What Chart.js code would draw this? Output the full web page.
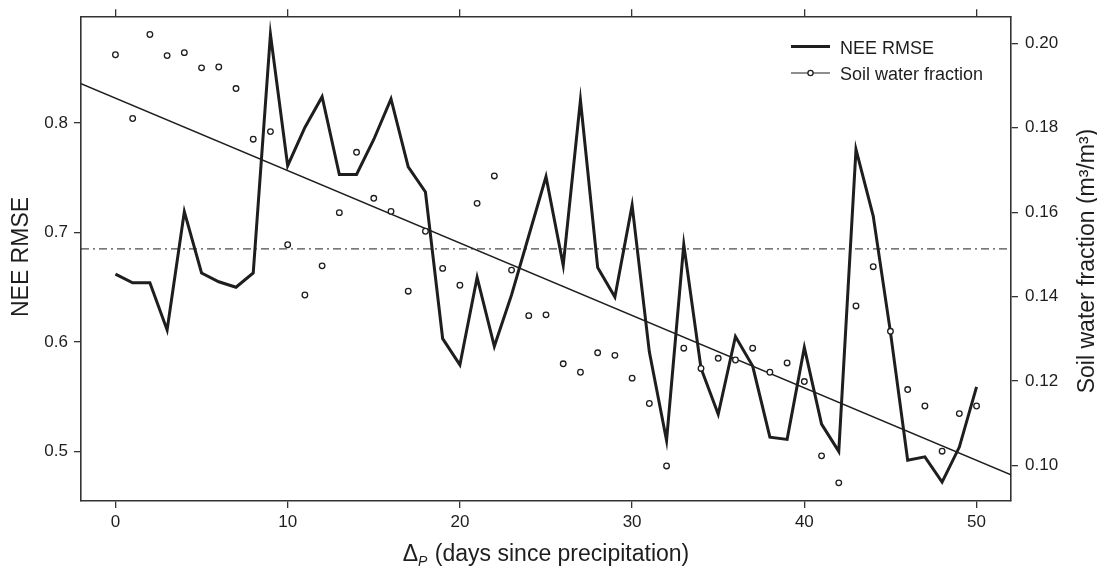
<!DOCTYPE html>
<html>
<head>
<meta charset="utf-8">
<script src="https://cdn.jsdelivr.net/npm/chart.js@4.4.1/dist/chart.umd.min.js"></script>
<style>
  html, body { margin: 0; padding: 0; background: #fff; }
  #wrap { width: 1097px; height: 566px; }
</style>
</head>
<body>
<div id="wrap"><canvas id="chart" width="1097" height="566"></canvas></div>
<script>
'use strict';

// days since precipitation
const days = [0,1,2,3,4,5,6,7,8,9,10,11,12,13,14,15,16,17,18,19,20,21,22,23,24,25,
              26,27,28,29,30,31,32,33,34,35,36,37,38,39,40,41,42,43,44,45,46,47,48,49,50];

// NEE RMSE (left axis)
const neeRmse = [0.662,0.654,0.654,0.611,0.719,0.663,0.655,0.650,0.663,0.881,0.761,0.796,0.824,0.753,0.753,0.785,0.822,0.760,0.737,0.603,
                 0.579,0.659,0.596,0.643,0.697,0.751,0.670,0.821,0.668,0.641,0.725,0.591,0.510,0.689,0.576,0.534,0.605,0.578,0.513,0.511,
                 0.595,0.525,0.500,0.776,0.715,0.609,0.492,0.495,0.472,0.504,0.559];

// soil water fraction (right axis, m3/m3)
const soilWater = [0.1973,0.1822,0.2021,0.1971,0.1978,0.1942,0.1944,0.1893,0.1773,0.1791,0.1523,0.1404,0.1473,0.1599,0.1742,0.1633,0.1602,0.1413,0.1555,0.1467,
                   0.1427,0.1621,0.1686,0.1463,0.1355,0.1357,0.1241,0.1221,0.1267,0.1261,0.1207,0.1147,0.0999,0.1278,0.1230,0.1254,0.1250,0.1278,0.1221,0.1243,
                   0.1199,0.1023,0.0959,0.1378,0.1471,0.1318,0.1180,0.1141,0.1034,0.1123,0.1141];

// straight trend line and dash-dot reference level (left axis)
const trendX = [-2, 52];
const trendY = [0.836, 0.4786];
const refX = [-2, 52];
const refY = [0.685, 0.685];

// ticks
const dayTicks = [0, 10, 20, 30, 40, 50];
const rmseTicks = [0.5, 0.6, 0.7, 0.8];
const soilTicks = [0.10, 0.12, 0.14, 0.16, 0.18, 0.20];

const FONT = '"Liberation Sans", Arial, Helvetica, sans-serif';
const INK = '#1e1e1e';
const AXIS = '#333';

const pts = (xs, ys) => xs.map((x, i) => ({ x, y: ys[i] }));
const setTicks = list => s => { s.ticks = list.map(v => ({ value: v })); };

const edgeGrid = len => ({ display: true, drawOnChartArea: false, drawTicks: true, tickLength: len, color: AXIS, lineWidth: 1.3 });
const edgeBorder = { display: true, color: AXIS, width: 1.6 };
const tickFont = { family: FONT, size: 17 };

const textPlugin = {
  id: 'textPlugin',
  afterDraw(chart) {
    const ctx = chart.ctx, a = chart.chartArea;
    ctx.save();
    ctx.fillStyle = INK;
    ctx.strokeStyle = INK;

    // left title
    ctx.font = `23px ${FONT}`;
    ctx.textAlign = 'center';
    ctx.textBaseline = 'alphabetic';
    ctx.save();
    ctx.translate(28, 257);
    ctx.rotate(-Math.PI / 2);
    ctx.fillText('NEE RMSE', 0, 0);
    ctx.restore();

    // right title
    ctx.save();
    ctx.translate(1094, 261);
    ctx.rotate(-Math.PI / 2);
    ctx.fillText('Soil water fraction (m\u00b3/m\u00b3)', 0, 0);
    ctx.restore();

    // x title with subscript
    const main = `23px ${FONT}`, sub = `italic 14px ${FONT}`;
    const rest = ' (days since precipitation)';
    ctx.font = main; const wD = ctx.measureText('\u0394').width, wR = ctx.measureText(rest).width;
    ctx.font = sub; const wP = ctx.measureText('P').width + 1;
    let x = (a.left + a.right) / 2 - (wD + wP + wR) / 2;
    ctx.textAlign = 'left';
    ctx.font = main; ctx.fillText('\u0394', x, 561); x += wD;
    ctx.font = sub; ctx.fillText('P', x, 566); x += wP;
    ctx.font = main; ctx.fillText(rest, x, 561);

    // legend
    ctx.font = `18px ${FONT}`;
    ctx.lineWidth = 3;
    ctx.beginPath(); ctx.moveTo(791, 46.5); ctx.lineTo(830, 46.5); ctx.stroke();
    ctx.fillText('NEE RMSE', 840, 54);
    ctx.lineWidth = 1.2;
    ctx.beginPath(); ctx.moveTo(791, 73); ctx.lineTo(830, 73); ctx.stroke();
    ctx.beginPath(); ctx.arc(810.5, 73, 2.6, 0, Math.PI * 2);
    ctx.fillStyle = '#fff'; ctx.fill(); ctx.lineWidth = 1.3; ctx.stroke();
    ctx.fillStyle = INK;
    ctx.fillText('Soil water fraction', 840, 80);
    ctx.restore();
  }
};

new Chart(document.getElementById('chart'), {
  type: 'line',
  data: {
    datasets: [
      {
        label: 'Soil water fraction',
        data: pts(days, soilWater),
        yAxisID: 'ySoil',
        showLine: false,
        pointRadius: 2.8,
        pointBorderWidth: 1.3,
        pointBorderColor: INK,
        pointBackgroundColor: '#fff',
        order: 1
      },
      {
        label: 'NEE RMSE',
        data: pts(days, neeRmse),
        yAxisID: 'y',
        borderColor: INK,
        borderWidth: 3,
        pointRadius: 0,
        tension: 0,
        order: 2
      },
      {
        label: 'trend',
        data: pts(trendX, trendY),
        yAxisID: 'y',
        borderColor: INK,
        borderWidth: 1.5,
        pointRadius: 0,
        order: 3
      },
      {
        label: 'reference',
        data: pts(refX, refY),
        yAxisID: 'y',
        borderColor: INK,
        borderWidth: 1,
        borderDash: [8, 4, 2, 4],
        pointRadius: 0,
        order: 4
      }
    ]
  },
  options: {
    responsive: false,
    animation: false,
    layout: { padding: 0 },
    plugins: { legend: { display: false }, tooltip: { enabled: false } },
    scales: {
      x: {
        type: 'linear', position: 'bottom', min: -2, max: 52,
        afterBuildTicks: setTicks(dayTicks),
        afterFit: s => { s.height = 65; },
        grid: edgeGrid(7),
        border: edgeBorder,
        ticks: { color: INK, font: tickFont, padding: 4, maxRotation: 0, callback: v => String(v) }
      },
      xTop: {
        type: 'linear', position: 'top', min: -2, max: 52,
        afterBuildTicks: setTicks(dayTicks),
        afterFit: s => { s.height = 13; },
        grid: edgeGrid(8),
        border: edgeBorder,
        ticks: { display: false }
      },
      y: {
        type: 'linear', position: 'left', min: 0.4547, max: 0.8967,
        afterBuildTicks: setTicks(rmseTicks),
        afterFit: s => { s.width = 81; },
        grid: edgeGrid(7),
        border: edgeBorder,
        ticks: { color: INK, font: tickFont, padding: 6, callback: v => v.toFixed(1) }
      },
      ySoil: {
        type: 'linear', position: 'right', min: 0.0916, max: 0.2062,
        afterBuildTicks: setTicks(soilTicks),
        afterFit: s => { s.width = 86; },
        grid: edgeGrid(7),
        border: edgeBorder,
        ticks: { color: INK, font: tickFont, padding: 7, callback: v => v.toFixed(2) }
      }
    }
  },
  plugins: [textPlugin]
});
</script>
</body>
</html>
